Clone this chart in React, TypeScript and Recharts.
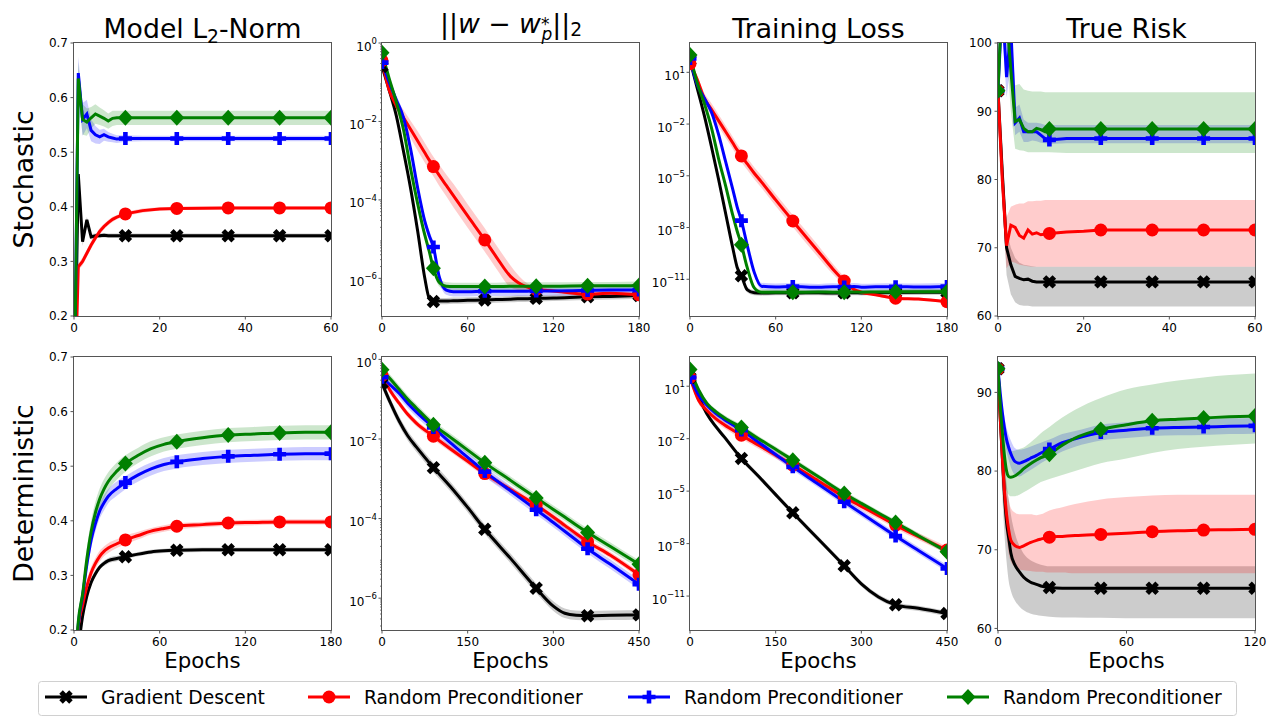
import React from 'react';
import { ComposedChart, Area, Line, XAxis, YAxis } from 'recharts';

const FONT = '"DejaVu Sans", Verdana, sans-serif';
const PLOT_W = 257;
const PLOT_H = 273;
const COL_X = [74, 382, 690, 998];
const ROW_Y = [43, 357];
const PAD_L = 60;
const PAD_T = 10;
const PAD_R = 14;
const PAD_B = 30;

// ---------- Stochastic row ----------
// Model L2-norm
const normStochEpochs = [0, 1, 2, 3, 4, 5, 6, 7, 8, 9, 10, 12, 16, 20, 24, 36, 48, 60];
const normStochGd = [0, 0.46, 0.336, 0.376, 0.345, 0.347, 0.347, 0.348, 0.347, 0.347, 0.347, 0.347, 0.347, 0.347, 0.347, 0.347, 0.347, 0.347];
const normStochGdSd = [0, 0.01, 0.008, 0.006, 0.005, 0.004, 0.004, 0.004, 0.004, 0.004, 0.004, 0.004, 0.004, 0.004, 0.004, 0.004, 0.004, 0.004];
const normStochRed = [0, 0.29, 0.3, 0.315, 0.33, 0.343, 0.355, 0.364, 0.371, 0.377, 0.381, 0.387, 0.393, 0.396, 0.397, 0.398, 0.398, 0.398];
const normStochRedSd = [0, 0.006, 0.007, 0.007, 0.007, 0.006, 0.006, 0.005, 0.005, 0.005, 0.004, 0.004, 0.004, 0.003, 0.003, 0.003, 0.003, 0.003];
const normStochBlue = [0, 0.645, 0.56, 0.57, 0.54, 0.532, 0.528, 0.532, 0.528, 0.526, 0.524, 0.525, 0.525, 0.525, 0.525, 0.525, 0.525, 0.525];
const normStochBlueSd = [0, 0.03, 0.03, 0.026, 0.02, 0.016, 0.013, 0.011, 0.009, 0.008, 0.007, 0.006, 0.005, 0.005, 0.005, 0.005, 0.005, 0.005];
const normStochGreen = [0, 0.635, 0.56, 0.555, 0.563, 0.57, 0.566, 0.562, 0.557, 0.562, 0.563, 0.563, 0.563, 0.563, 0.563, 0.563, 0.563, 0.563];
const normStochGreenSd = [0, 0.03, 0.028, 0.025, 0.02, 0.018, 0.016, 0.015, 0.014, 0.014, 0.013, 0.013, 0.013, 0.013, 0.013, 0.013, 0.013, 0.013];

// ||w - w_p*||_2  (log10 values)
const distStochEpochs = [0, 5, 10, 15, 20, 25, 30, 33, 36, 40, 45, 50, 60, 72, 80, 90, 95, 100, 108, 120, 144, 160, 180];
const distStochGd = [-0.6, -1.2, -1.85, -2.75, -3.7, -4.8, -6.0, -6.5, -6.59, -6.58, -6.58, -6.57, -6.56, -6.55, -6.54, -6.53, -6.52, -6.52, -6.51, -6.5, -6.47, -6.46, -6.44];
const distStochRed = [-0.45, -1.2, -1.6, -1.9, -2.2, -2.5, -2.8, -2.98, -3.15, -3.37, -3.63, -3.89, -4.41, -5.02, -5.45, -5.95, -6.1, -6.2, -6.28, -6.32, -6.4, -6.38, -6.42];
const distStochRedSd = [0.05, 0.1, 0.15, 0.2, 0.22, 0.25, 0.25, 0.25, 0.25, 0.27, 0.28, 0.3, 0.3, 0.3, 0.3, 0.28, 0.2, 0.12, 0.06, 0.05, 0.05, 0.05, 0.05];
const distStochBlue = [-0.5, -1.0, -1.45, -1.9, -2.7, -3.7, -4.55, -4.9, -5.2, -5.95, -6.3, -6.34, -6.34, -6.33, -6.33, -6.33, -6.33, -6.33, -6.32, -6.32, -6.31, -6.3, -6.3];
const distStochGreen = [-0.25, -0.9, -1.5, -2.2, -3.2, -4.1, -4.9, -5.3, -5.74, -6.1, -6.2, -6.21, -6.21, -6.21, -6.21, -6.2, -6.2, -6.2, -6.2, -6.2, -6.19, -6.19, -6.18];

// Training loss (log10 values)
const lossStochEpochs = [0, 5, 10, 15, 20, 25, 30, 33, 36, 40, 45, 50, 60, 72, 90, 100, 108, 115, 120, 130, 144, 160, 180];
const lossStochGd = [1.7, 0.1, -1.5, -3.3, -5.2, -7.2, -9.2, -10.3, -10.8, -11.6, -11.78, -11.8, -11.78, -11.79, -11.78, -11.8, -11.78, -11.78, -11.79, -11.78, -11.77, -11.76, -11.75];
const lossStochRed = [1.5, 0.6, -0.5, -1.15, -1.8, -2.45, -3.1, -3.5, -3.85, -4.3, -4.85, -5.35, -6.4, -7.62, -9.4, -10.4, -11.1, -11.6, -11.75, -11.9, -12.1, -12.15, -12.3];
const lossStochRedSd = [0.1, 0.2, 0.3, 0.35, 0.35, 0.35, 0.35, 0.35, 0.35, 0.35, 0.35, 0.35, 0.35, 0.35, 0.35, 0.3, 0.25, 0.15, 0.1, 0.08, 0.08, 0.08, 0.08];
const lossStochBlue = [1.8, 0.3, -0.5, -1.3, -2.6, -4.2, -5.8, -6.8, -7.6, -9.0, -10.6, -11.4, -11.45, -11.42, -11.47, -11.43, -11.45, -11.42, -11.46, -11.44, -11.43, -11.45, -11.42];
const lossStochGreen = [2.0, 0.4, -0.8, -2.2, -4.0, -5.6, -7.3, -8.2, -9.0, -10.3, -11.5, -11.75, -11.75, -11.76, -11.74, -11.75, -11.75, -11.74, -11.75, -11.74, -11.73, -11.72, -11.72];

// True risk
const riskStochEpochs = [0, 1, 2, 3, 4, 5, 6, 7, 8, 9, 10, 11, 12, 16, 20, 24, 36, 48, 60];
const riskStochGd = [93, 81, 70, 67.5, 65.8, 65.5, 65.3, 65.4, 65.1, 65, 65, 65, 65, 65, 65, 65, 65, 65, 65];
const riskStochGdLo = [93, 77, 66, 63.2, 62, 61.6, 61.5, 61.5, 61.4, 61.4, 61.4, 61.4, 61.4, 61.4, 61.4, 61.4, 61.4, 61.4, 61.4];
const riskStochGdHi = [93, 85, 72.5, 70, 68.5, 67.8, 67.5, 67.4, 67.3, 67.2, 67.2, 67.2, 67.2, 67.2, 67.2, 67.2, 67.2, 67.2, 67.2];
const riskStochRed = [93, 80, 70.3, 73.3, 73, 71.8, 71.4, 72.6, 72, 72.2, 71.9, 72, 72.1, 72.3, 72.4, 72.6, 72.6, 72.6, 72.6];
const riskStochRedLo = [93, 76, 67, 68, 67.8, 67.5, 67.4, 67.3, 67.2, 67.2, 67.2, 67.2, 67.2, 67.2, 67.2, 67.2, 67.2, 67.2, 67.2];
const riskStochRedHi = [93, 84, 74.5, 76, 76.3, 76.5, 76.5, 76.8, 76.8, 76.9, 76.9, 77, 77, 77, 77, 77, 77, 77, 77];
const riskStochBlue = [93, 106, 95, 102, 88.3, 89, 87, 87, 87, 87, 86.5, 86, 85.8, 86, 86, 86, 86, 86, 86];
const riskStochBlueLo = [93, 102, 92, 97, 86.5, 87, 85.5, 85.5, 85.7, 85.6, 85.4, 85.3, 85.2, 85.3, 85.3, 85.3, 85.3, 85.3, 85.3];
const riskStochBlueHi = [93, 110, 98, 106, 90.5, 91, 88.8, 88.3, 88.3, 88.3, 88.2, 88, 88, 88, 88, 88, 88, 88, 88];
const riskStochGreen = [93, 108, 104, 96, 88.5, 88.8, 87.5, 87, 87, 87.5, 87.3, 87, 87.4, 87.4, 87.4, 87.4, 87.4, 87.4, 87.4];
const riskStochGreenLo = [93, 104, 99, 90, 84.5, 84.3, 84.2, 84, 84, 84, 84, 84, 84, 83.9, 83.9, 83.9, 83.9, 83.9, 83.9];
const riskStochGreenHi = [93, 112, 109, 102, 93.8, 94, 93.2, 93, 92.9, 92.9, 92.9, 92.8, 92.8, 92.8, 92.8, 92.8, 92.8, 92.8, 92.8];

// ---------- Deterministic row ----------
const normDetEpochs = [0, 3, 6, 9, 12, 15, 18, 21, 24, 30, 36, 45, 54, 63, 72, 90, 108, 126, 144, 162, 180];
const normDetGd = [0.05, 0.16, 0.225, 0.262, 0.287, 0.303, 0.315, 0.322, 0.327, 0.331, 0.334, 0.339, 0.343, 0.345, 0.346, 0.347, 0.347, 0.347, 0.347, 0.347, 0.347];
const normDetGdSd = [0, 0.005, 0.006, 0.006, 0.006, 0.006, 0.005, 0.005, 0.005, 0.005, 0.004, 0.004, 0.004, 0.004, 0.004, 0.004, 0.004, 0.004, 0.004, 0.004, 0.004];
const normDetRed = [0.08, 0.205, 0.245, 0.28, 0.305, 0.322, 0.335, 0.344, 0.35, 0.358, 0.365, 0.373, 0.381, 0.386, 0.39, 0.393, 0.396, 0.397, 0.398, 0.398, 0.398];
const normDetRedSd = [0, 0.008, 0.01, 0.011, 0.011, 0.01, 0.01, 0.009, 0.009, 0.008, 0.008, 0.007, 0.006, 0.006, 0.006, 0.005, 0.005, 0.005, 0.005, 0.005, 0.005];
const normDetBlue = [0.08, 0.21, 0.262, 0.32, 0.365, 0.395, 0.418, 0.433, 0.445, 0.459, 0.47, 0.484, 0.495, 0.503, 0.508, 0.514, 0.518, 0.52, 0.522, 0.523, 0.523];
const normDetBlueSd = [0, 0.01, 0.013, 0.015, 0.015, 0.015, 0.014, 0.014, 0.013, 0.013, 0.012, 0.012, 0.012, 0.012, 0.012, 0.012, 0.012, 0.012, 0.012, 0.012, 0.012];
const normDetGreen = [0.08, 0.215, 0.265, 0.33, 0.38, 0.415, 0.44, 0.458, 0.472, 0.491, 0.505, 0.52, 0.532, 0.54, 0.545, 0.552, 0.557, 0.559, 0.561, 0.562, 0.562];
const normDetGreenSd = [0, 0.012, 0.016, 0.02, 0.02, 0.02, 0.019, 0.018, 0.017, 0.016, 0.015, 0.014, 0.014, 0.013, 0.013, 0.013, 0.013, 0.013, 0.013, 0.013, 0.013];

// log10 values
const distDetEpochs = [0, 15, 30, 45, 60, 90, 120, 150, 180, 225, 270, 300, 320, 340, 360, 400, 450];
const distDetGd = [-0.6, -1.1, -1.55, -1.92, -2.2, -2.72, -3.2, -3.72, -4.27, -5.0, -5.75, -6.2, -6.38, -6.43, -6.44, -6.43, -6.42];
const distDetRed = [-0.4, -0.8, -1.1, -1.38, -1.6, -1.93, -2.25, -2.56, -2.87, -3.27, -3.66, -3.96, -4.17, -4.38, -4.58, -4.92, -5.41];
const distDetBlue = [-0.45, -0.65, -0.85, -1.1, -1.32, -1.71, -2.1, -2.46, -2.82, -3.3, -3.78, -4.1, -4.32, -4.54, -4.76, -5.15, -5.65];
const distDetGreen = [-0.26, -0.5, -0.75, -1.0, -1.22, -1.64, -1.96, -2.28, -2.6, -3.04, -3.48, -3.77, -3.96, -4.16, -4.35, -4.7, -5.15];

// log10 values
const lossDetEpochs = [0, 15, 30, 45, 60, 90, 120, 150, 180, 225, 270, 300, 330, 360, 400, 450];
const lossDetGd = [1.5, 0.4, -0.6, -1.3, -1.9, -3.13, -4.15, -5.2, -6.24, -7.75, -9.27, -10.3, -11.05, -11.5, -11.7, -12.0];
const lossDetRed = [1.5, 0.2, -0.4, -0.85, -1.2, -1.8, -2.37, -2.94, -3.51, -4.42, -5.33, -5.87, -6.4, -6.94, -7.6, -8.37];
const lossDetBlue = [1.5, 0.5, -0.1, -0.55, -0.9, -1.51, -2.2, -2.9, -3.61, -4.6, -5.61, -6.27, -6.92, -7.57, -8.4, -9.42];
const lossDetGreen = [1.95, 0.8, 0.0, -0.45, -0.8, -1.36, -2.0, -2.6, -3.23, -4.18, -5.13, -5.7, -6.25, -6.79, -7.55, -8.47];

const riskDetEpochs = [0, 1, 2, 3, 4, 5, 6, 8, 10, 12, 15, 18, 20, 24, 30, 36, 48, 60, 72, 84, 96, 108, 120];
const riskDetGd = [93, 87, 82, 77, 73.5, 71.5, 69.6, 68.0, 67.2, 66.5, 65.9, 65.6, 65.4, 65.2, 65.1, 65.1, 65.1, 65.1, 65.1, 65.1, 65.1, 65.1, 65.1];
const riskDetGdLo = [93, 83, 77, 72, 68.5, 66, 64.8, 63.5, 62.8, 62.3, 61.9, 61.7, 61.6, 61.5, 61.4, 61.4, 61.35, 61.3, 61.3, 61.3, 61.3, 61.3, 61.3];
const riskDetGdHi = [93, 90, 86, 82, 78.5, 76.5, 74.5, 72, 70.5, 69.5, 68.7, 68.3, 68.1, 67.9, 67.9, 67.9, 67.9, 67.9, 67.9, 67.9, 67.9, 67.9, 67.9];
const riskDetRed = [93, 87, 82, 77.5, 74.5, 72.5, 71.2, 70.5, 70.3, 70.5, 70.9, 71.2, 71.35, 71.6, 71.7, 71.8, 71.95, 72.1, 72.3, 72.4, 72.5, 72.55, 72.6];
const riskDetRedLo = [93, 85, 79, 74.5, 71.5, 69.5, 68.5, 67.8, 67.5, 67.4, 67.3, 67.2, 67.2, 67.1, 67.1, 67.0, 67.0, 67.0, 67.0, 67.0, 67.0, 67.0, 67.0];
const riskDetRedHi = [93, 89, 85, 81, 78, 76.3, 75.3, 74.7, 74.5, 74.5, 74.5, 74.4, 74.5, 75, 75.4, 75.8, 76.4, 76.7, 76.9, 77, 77, 77, 77];
const riskDetBlue = [93, 90, 87.5, 85.5, 84, 83, 82.2, 81.2, 81.0, 81.2, 81.6, 82.0, 82.3, 82.8, 83.6, 84.1, 84.9, 85.2, 85.45, 85.55, 85.6, 85.7, 85.75];
const riskDetBlueSd = [0, 0.8, 1.2, 1.4, 1.5, 1.6, 1.7, 1.7, 1.7, 1.6, 1.5, 1.4, 1.3, 1.2, 1.1, 1.0, 1.0, 1.0, 1.0, 1.0, 1.0, 1.0, 1.0];
const riskDetGreen = [93, 88.5, 85, 82, 80, 79.3, 79.2, 79.4, 79.8, 80.3, 80.9, 81.4, 81.7, 82.15, 83.3, 84.2, 85.3, 85.9, 86.4, 86.6, 86.75, 86.9, 87.0];
const riskDetGreenLo = [93, 86, 82, 79, 77.5, 77.0, 76.8, 76.8, 77.0, 77.3, 77.8, 78.3, 78.6, 79.0, 79.5, 80.0, 81.0, 81.6, 82.3, 82.8, 83.1, 83.3, 83.5];
const riskDetGreenHi = [93, 90, 87.5, 85.5, 84, 83, 82.5, 82.6, 82.8, 83, 83.6, 84.3, 84.8, 85.6, 86.8, 87.8, 89.3, 90.4, 91.0, 91.5, 91.9, 92.2, 92.4];

const legendLabels = ['Gradient Descent', 'Random Preconditioner', 'Random Preconditioner', 'Random Preconditioner'];

const KEYS = ['gd', 'red', 'blue', 'green'];
const STYLE: Record<string, { color: string; marker: string }> = {
  gd: { color: '#000000', marker: 'x' },
  red: { color: '#ff0000', marker: 'circle' },
  blue: { color: '#0000ff', marker: 'plus' },
  green: { color: '#008000', marker: 'diamond' },
};

const panels: any[] = [
  {
    col: 0, row: 0, xs: normStochEpochs, xMax: 60, xTicks: [0, 20, 40, 60], marks: [0, 12, 24, 36, 48, 60],
    yDomain: [0.2, 0.7], yTicks: [0.2, 0.3, 0.4, 0.5, 0.6, 0.7], digits: 1, curve: 'linear',
    series: {
      gd: { mean: normStochGd, spread: normStochGdSd }, red: { mean: normStochRed, spread: normStochRedSd },
      blue: { mean: normStochBlue, spread: normStochBlueSd }, green: { mean: normStochGreen, spread: normStochGreenSd },
    },
  },
  {
    col: 1, row: 0, xs: distStochEpochs, xMax: 180, xTicks: [0, 60, 120, 180], marks: [0, 36, 72, 108, 144, 180],
    log: true, yDomain: [-6.96, 0], majors: [-6, -4, -2, 0], minor: true, curve: 'monotone',
    series: {
      gd: { mean: distStochGd, spread: 0.08 }, red: { mean: distStochRed, spread: distStochRedSd },
      blue: { mean: distStochBlue, spread: 0.12 }, green: { mean: distStochGreen, spread: 0.1 },
    },
  },
  {
    col: 2, row: 0, xs: lossStochEpochs, xMax: 180, xTicks: [0, 60, 120, 180], marks: [0, 36, 72, 108, 144, 180],
    log: true, yDomain: [-13.13, 2.7], majors: [-11, -8, -5, -2, 1], minor: false, curve: 'monotone',
    series: {
      gd: { mean: lossStochGd, spread: 0.15 }, red: { mean: lossStochRed, spread: lossStochRedSd },
      blue: { mean: lossStochBlue, spread: 0.2 }, green: { mean: lossStochGreen, spread: 0.15 },
    },
  },
  {
    col: 3, row: 0, xs: riskStochEpochs, xMax: 60, xTicks: [0, 20, 40, 60], marks: [0, 12, 24, 36, 48, 60],
    yDomain: [60, 100], yTicks: [60, 70, 80, 90, 100], digits: 0, curve: 'linear',
    series: {
      gd: { mean: riskStochGd, lo: riskStochGdLo, hi: riskStochGdHi },
      red: { mean: riskStochRed, lo: riskStochRedLo, hi: riskStochRedHi },
      blue: { mean: riskStochBlue, lo: riskStochBlueLo, hi: riskStochBlueHi },
      green: { mean: riskStochGreen, lo: riskStochGreenLo, hi: riskStochGreenHi },
    },
  },
  {
    col: 0, row: 1, xs: normDetEpochs, xMax: 180, xTicks: [0, 60, 120, 180], marks: [0, 36, 72, 108, 144, 180],
    yDomain: [0.2, 0.7], yTicks: [0.2, 0.3, 0.4, 0.5, 0.6, 0.7], digits: 1, curve: 'monotone',
    series: {
      gd: { mean: normDetGd, spread: normDetGdSd }, red: { mean: normDetRed, spread: normDetRedSd },
      blue: { mean: normDetBlue, spread: normDetBlueSd }, green: { mean: normDetGreen, spread: normDetGreenSd },
    },
  },
  {
    col: 1, row: 1, xs: distDetEpochs, xMax: 450, xTicks: [0, 150, 300, 450], marks: [0, 90, 180, 270, 360, 450],
    log: true, yDomain: [-6.8, 0.06], majors: [-6, -4, -2, 0], minor: true, curve: 'monotone',
    series: {
      gd: { mean: distDetGd, spread: 0.12 }, red: { mean: distDetRed, spread: 0.08 },
      blue: { mean: distDetBlue, spread: 0.12 }, green: { mean: distDetGreen, spread: 0.1 },
    },
  },
  {
    col: 2, row: 1, xs: lossDetEpochs, xMax: 450, xTicks: [0, 150, 300, 450], marks: [0, 90, 180, 270, 360, 450],
    log: true, yDomain: [-12.94, 2.67], majors: [-11, -8, -5, -2, 1], minor: false, curve: 'monotone',
    series: {
      gd: { mean: lossDetGd, spread: 0.15 }, red: { mean: lossDetRed, spread: 0.2 },
      blue: { mean: lossDetBlue, spread: 0.2 }, green: { mean: lossDetGreen, spread: 0.15 },
    },
  },
  {
    col: 3, row: 1, xs: riskDetEpochs, xMax: 120, xTicks: [0, 60, 120], marks: [0, 24, 48, 72, 96, 120],
    yDomain: [59.8, 94.5], yTicks: [60, 70, 80, 90], digits: 0, curve: 'monotone',
    series: {
      gd: { mean: riskDetGd, lo: riskDetGdLo, hi: riskDetGdHi },
      red: { mean: riskDetRed, lo: riskDetRedLo, hi: riskDetRedHi },
      blue: { mean: riskDetBlue, spread: riskDetBlueSd },
      green: { mean: riskDetGreen, lo: riskDetGreenLo, hi: riskDetGreenHi },
    },
  },
];

function buildRows(p: any) {
  const tr = (v: number) => (p.log ? Math.pow(10, v) : v);
  return p.xs.map((x: number, i: number) => {
    const row: any = { x };
    KEYS.forEach((k) => {
      const s = p.series[k];
      const m = s.mean[i];
      const sp = typeof s.spread === 'number' ? s.spread : s.spread ? s.spread[i] : 0;
      const lo = s.lo ? s.lo[i] : m - sp;
      const hi = s.hi ? s.hi[i] : m + sp;
      row[k] = tr(m);
      row[k + 'Band'] = [tr(lo), tr(hi)];
    });
    return row;
  });
}

function Marker({ kind, cx, cy, color }: any) {
  if (kind === 'circle') return <circle cx={cx} cy={cy} r={6.5} fill={color} />;
  if (kind === 'diamond') {
    return <polygon points={`${cx},${cy - 8} ${cx + 7.5},${cy} ${cx},${cy + 8} ${cx - 7.5},${cy}`} fill={color} />;
  }
  const a = kind === 'x' ? 7 : 6.5;
  const t = kind === 'x' ? 2.5 : 2.3;
  const pts = [[-t, -a], [t, -a], [t, -t], [a, -t], [a, t], [t, t], [t, a], [-t, a], [-t, t], [-a, t], [-a, -t], [-t, -t]]
    .map(([px, py]) => `${px},${py}`).join(' ');
  return (
    <g transform={`translate(${cx},${cy})${kind === 'x' ? ' rotate(45)' : ''}`}>
      <polygon points={pts} fill={color} />
    </g>
  );
}

const XTick = (props: any) => {
  const { x, y, payload } = props;
  return (
    <g>
      <line x1={x} x2={x} y1={y} y2={y + 3.5} stroke="#444" strokeWidth={0.9} />
      <text x={x} y={y + 16} textAnchor="middle" fontSize={12} fontFamily={FONT} fill="#000">{payload.value}</text>
    </g>
  );
};

const makeLinTick = (digits: number) => (props: any) => {
  const { x, y, payload } = props;
  return (
    <g>
      <line x1={x - 3.5} x2={x} y1={y} y2={y} stroke="#444" strokeWidth={0.9} />
      <text x={x - 6} y={y + 4.3} textAnchor="end" fontSize={12} fontFamily={FONT} fill="#000">
        {Number(payload.value).toFixed(digits)}
      </text>
    </g>
  );
};

const makeLogTick = (majors: number[]) => (props: any) => {
  const { x, y, payload } = props;
  const e = Math.log10(payload.value);
  const er = Math.round(e);
  const major = Math.abs(e - er) < 1e-6 && majors.includes(er);
  if (!major) return <line x1={x - 2} x2={x} y1={y} y2={y} stroke="#444" strokeWidth={0.7} />;
  const exp = er < 0 ? `\u2212${-er}` : `${er}`;
  return (
    <g>
      <line x1={x - 3.5} x2={x} y1={y} y2={y} stroke="#444" strokeWidth={0.9} />
      <text x={x - 5} y={y + 7.5} textAnchor="end" fontSize={12} fontFamily={FONT} fill="#000">
        10<tspan dy={-6.5} fontSize={8.5}>{exp}</tspan>
      </text>
    </g>
  );
};

function logTicks(p: any) {
  const [lo, hi] = p.yDomain;
  const out: number[] = p.majors.map((e: number) => Math.pow(10, e));
  if (p.minor) {
    for (let k = Math.floor(lo); k <= Math.ceil(hi); k++) {
      for (let m = 2; m <= 9; m++) {
        const v = m * Math.pow(10, k);
        const lv = Math.log10(v);
        if (lv > lo && lv < hi) out.push(v);
      }
    }
  }
  return out.sort((a, b) => a - b);
}

function Panel({ p }: any) {
  const rows = buildRows(p);
  const marks = new Set(p.marks);
  const domain = p.log ? [Math.pow(10, p.yDomain[0]), Math.pow(10, p.yDomain[1])] : p.yDomain;
  const ticks = p.log ? logTicks(p) : p.yTicks;
  const yTick = p.log ? makeLogTick(p.majors) : makeLinTick(p.digits);
  return (
    <div style={{ position: 'absolute', left: COL_X[p.col] - PAD_L, top: ROW_Y[p.row] - PAD_T }}>
      <ComposedChart
        width={PAD_L + PLOT_W + PAD_R}
        height={PAD_T + PLOT_H + PAD_B}
        data={rows}
        margin={{ top: PAD_T, right: PAD_R, bottom: 0, left: 0 }}
      >
        <XAxis
          dataKey="x" type="number" domain={[0, p.xMax]} ticks={p.xTicks} interval={0} allowDataOverflow
          height={PAD_B} axisLine={false} tickLine={false} tickSize={0} tickMargin={0} tick={XTick}
        />
        <YAxis
          type="number" scale={p.log ? 'log' : 'linear'} domain={domain} ticks={ticks} interval={0} allowDataOverflow
          width={PAD_L} axisLine={false} tickLine={false} tickSize={0} tickMargin={0} tick={yTick}
        />
        {KEYS.map((k) => (
          <Area
            key={k + 'Band'} dataKey={k + 'Band'} type={p.curve} stroke="none" fill={STYLE[k].color}
            fillOpacity={0.2} dot={false} activeDot={false} isAnimationActive={false}
          />
        ))}
        {KEYS.map((k) => (
          <Line
            key={k} dataKey={k} type={p.curve} stroke={STYLE[k].color} strokeWidth={3} activeDot={false}
            isAnimationActive={false}
            dot={(d: any) => {
              if (!marks.has(d.payload.x) || d.cx == null || d.cy == null) return <g key={`${k}-${d.index}`} />;
              return <Marker key={`${k}-${d.index}`} kind={STYLE[k].marker} cx={d.cx} cy={d.cy} color={STYLE[k].color} />;
            }}
          />
        ))}
      </ComposedChart>
    </div>
  );
}

function Overlay() {
  const legendX = [45, 308, 628, 947];
  return (
    <svg width={1276} height={717} style={{ position: 'absolute', left: 0, top: 0, pointerEvents: 'none' }} fontFamily={FONT}>
      {panels.map((p, i) => (
        <rect key={i} x={COL_X[p.col] - 0.5} y={ROW_Y[p.row] - 0.5} width={PLOT_W + 1} height={PLOT_H + 1} fill="none" stroke="#555" strokeWidth={1} />
      ))}
      {/* column titles */}
      <text x={202.5} y={37.7} textAnchor="middle" fontSize={26.7}>
        Model L<tspan dy={5} fontSize={18.7}>2</tspan><tspan dy={-5}>-Norm</tspan>
      </text>
      <text x={511} y={33} textAnchor="middle" fontSize={26.7}>
        ||<tspan fontStyle="italic">w</tspan> {'\u2212'} <tspan fontStyle="italic">w</tspan>
        <tspan fontSize={17} dy={-3}>*</tspan>
        <tspan fontSize={17} fontStyle="italic" dx={-8} dy={10}>p</tspan>
        <tspan dy={-7}>||</tspan>
        <tspan fontSize={18.7} dy={3}>2</tspan>
      </text>
      <text x={818.5} y={37.7} textAnchor="middle" fontSize={26.7}>Training Loss</text>
      <text x={1126.5} y={37.7} textAnchor="middle" fontSize={26.7}>True Risk</text>
      {/* row labels */}
      <text transform="translate(33.3,179.5) rotate(-90)" textAnchor="middle" fontSize={26.7}>Stochastic</text>
      <text transform="translate(33.3,493.5) rotate(-90)" textAnchor="middle" fontSize={26.7}>Deterministic</text>
      {COL_X.map((cx, i) => (
        <text key={i} x={cx + PLOT_W / 2} y={667.7} textAnchor="middle" fontSize={21.3}>Epochs</text>
      ))}
      {/* legend */}
      <rect x={38.5} y={681.5} width={1198} height={34} rx={3} fill="#fff" stroke="#d0d0d0" strokeWidth={1} />
      {KEYS.map((k, i) => (
        <g key={k}>
          <line x1={legendX[i]} x2={legendX[i] + 42} y1={697} y2={697} stroke={STYLE[k].color} strokeWidth={3} />
          <Marker kind={STYLE[k].marker} cx={legendX[i] + 21} cy={697} color={STYLE[k].color} />
          <text x={legendX[i] + 56} y={703.5} fontSize={18.7}>{legendLabels[i]}</text>
        </g>
      ))}
    </svg>
  );
}

export default function App() {
  return (
    <div style={{ position: 'absolute', left: 0, top: 0, width: 1276, height: 717, background: '#fff', overflow: 'hidden', fontFamily: FONT }}>
      {panels.map((p, i) => <Panel key={i} p={p} />)}
      <Overlay />
    </div>
  );
}
